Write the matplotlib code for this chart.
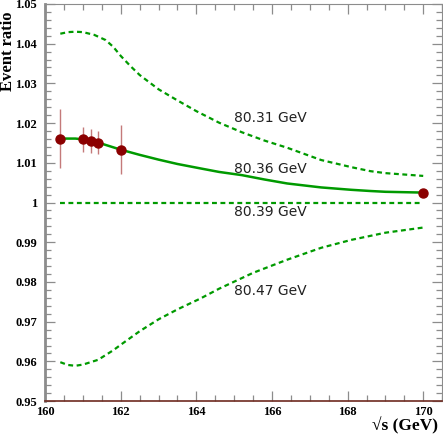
import matplotlib
matplotlib.use("Agg")
import matplotlib.pyplot as plt
from matplotlib.ticker import MultipleLocator

# measured points (sqrt(s) in GeV, event ratio)
data_x = [160.4, 161.0, 161.2, 161.4, 162.0, 170.0]
data_y = [1.0161, 1.0159, 1.0155, 1.0151, 1.0133, 1.0025]
data_err = [0.0074, 0.0032, 0.0031, 0.0030, 0.0061, 0.0006]

# model curves for different W masses
x_8031 = [160.4, 160.6, 160.8, 161.0, 161.3, 161.6, 161.8, 162.0, 162.25, 162.5, 163.0,
          163.5, 164.0, 164.6, 165.2, 165.8, 166.4, 167.3, 168.1, 168.6, 169.0, 170.0]
y_8031 = [1.0425, 1.0429, 1.0430, 1.0429, 1.0422, 1.0409, 1.0392, 1.0369, 1.0344, 1.0321,
          1.0285, 1.0257, 1.0230, 1.0201, 1.0177, 1.0156, 1.0138, 1.0107, 1.0089, 1.0079,
          1.0074, 1.0067]

x_8036 = [160.4, 160.8, 161.0, 161.4, 162.0, 162.5, 163.0, 163.5, 164.1, 164.6,
          165.2, 165.8, 166.4, 167.3, 168.1, 168.6, 169.0, 170.0]
y_8036 = [1.0161, 1.0161, 1.0159, 1.0151, 1.0133, 1.0120, 1.0108, 1.0097, 1.0086, 1.0077,
          1.0069, 1.0058, 1.0048, 1.0038, 1.0032, 1.0029, 1.0027, 1.0025]

x_8039 = [160.4, 170.0]
y_8039 = [1.0, 1.0]

x_8047 = [160.4, 160.6, 160.8, 161.0, 161.4, 161.8, 162.0, 162.5, 163.0, 163.5, 164.1,
          164.6, 165.5, 166.4, 167.3, 168.1, 169.0, 170.0]
y_8047 = [0.9598, 0.9591, 0.9589, 0.9592, 0.9604, 0.9628, 0.9642, 0.9676, 0.9706, 0.9731,
          0.9758, 0.9783, 0.9823, 0.9856, 0.9886, 0.9906, 0.9924, 0.9937]

labels = ["80.31 GeV", "80.36 GeV", "80.39 GeV", "80.47 GeV"]
label_y = [1.0214, 1.0085, 0.9977, 0.9777]

GREEN = "#009a00"
DARKRED = "#8b0000"
ERRC = "#c47a7a"
GREY = "#8c8c8c"

fig = plt.figure(figsize=(4.43, 4.36), dpi=100)
ax = fig.add_axes([0.102, 0.080, 0.896, 0.911])

dash = (0, (2.2, 1.6))
ax.plot(x_8031, y_8031, color=GREEN, lw=1.6, ls=dash)
ax.plot(x_8036, y_8036, color=GREEN, lw=1.8, ls="-")
ax.plot(x_8039, y_8039, color=GREEN, lw=1.6, ls=dash)
ax.plot(x_8047, y_8047, color=GREEN, lw=1.6, ls=dash)

ax.errorbar(data_x, data_y, yerr=data_err, fmt="o", color=DARKRED, ms=6.5,
            ecolor=ERRC, elinewidth=1.0, capsize=0, zorder=5)

for lab, yy in zip(labels, label_y):
    ax.text(165.0, yy, lab, fontsize=10, color="#222222", ha="left", va="center",
            family="DejaVu Sans")

ax.set_xlim(160, 170.5)
ax.set_ylim(0.95, 1.05)
ax.xaxis.set_major_locator(MultipleLocator(2))
ax.xaxis.set_minor_locator(MultipleLocator(0.5))
ax.yaxis.set_minor_locator(MultipleLocator(0.002))
ax.set_yticks([0.95, 0.96, 0.97, 0.98, 0.99, 1.0, 1.01, 1.02, 1.03, 1.04, 1.05])
ax.set_yticklabels(["0.95", "0.96", "0.97", "0.98", "0.99", "1", "1.01", "1.02",
                    "1.03", "1.04", "1.05"])

ax.tick_params(which="both", direction="in", top=True, right=True, color=GREY,
               labelsize=9)
ax.tick_params(which="major", length=7, width=0.9)
ax.tick_params(which="minor", length=4, width=0.9)
ax.tick_params(axis="y", which="major", pad=6)
ax.tick_params(axis="x", which="major", pad=3.5)
for lab in ax.get_xticklabels() + ax.get_yticklabels():
    lab.set_family("Liberation Serif")
    lab.set_fontweight("bold")

ax.spines["left"].set_color(GREY)
ax.spines["left"].set_linewidth(2.0)
ax.spines["bottom"].set_color("#6e2a20")
ax.spines["bottom"].set_linewidth(1.2)
ax.spines["top"].set_color(GREY)
ax.spines["right"].set_color(GREY)

fig.text(0.018, 0.882, "Event ratio", rotation=90, fontsize=12, fontweight="bold",
         family="Liberation Serif", ha="center", va="center")
fig.text(0.989, 0.003, "\u221as (GeV)", fontsize=12.5, fontweight="bold",
         family="Liberation Serif", ha="right", va="bottom")

fig.savefig("out.png", dpi=100)
